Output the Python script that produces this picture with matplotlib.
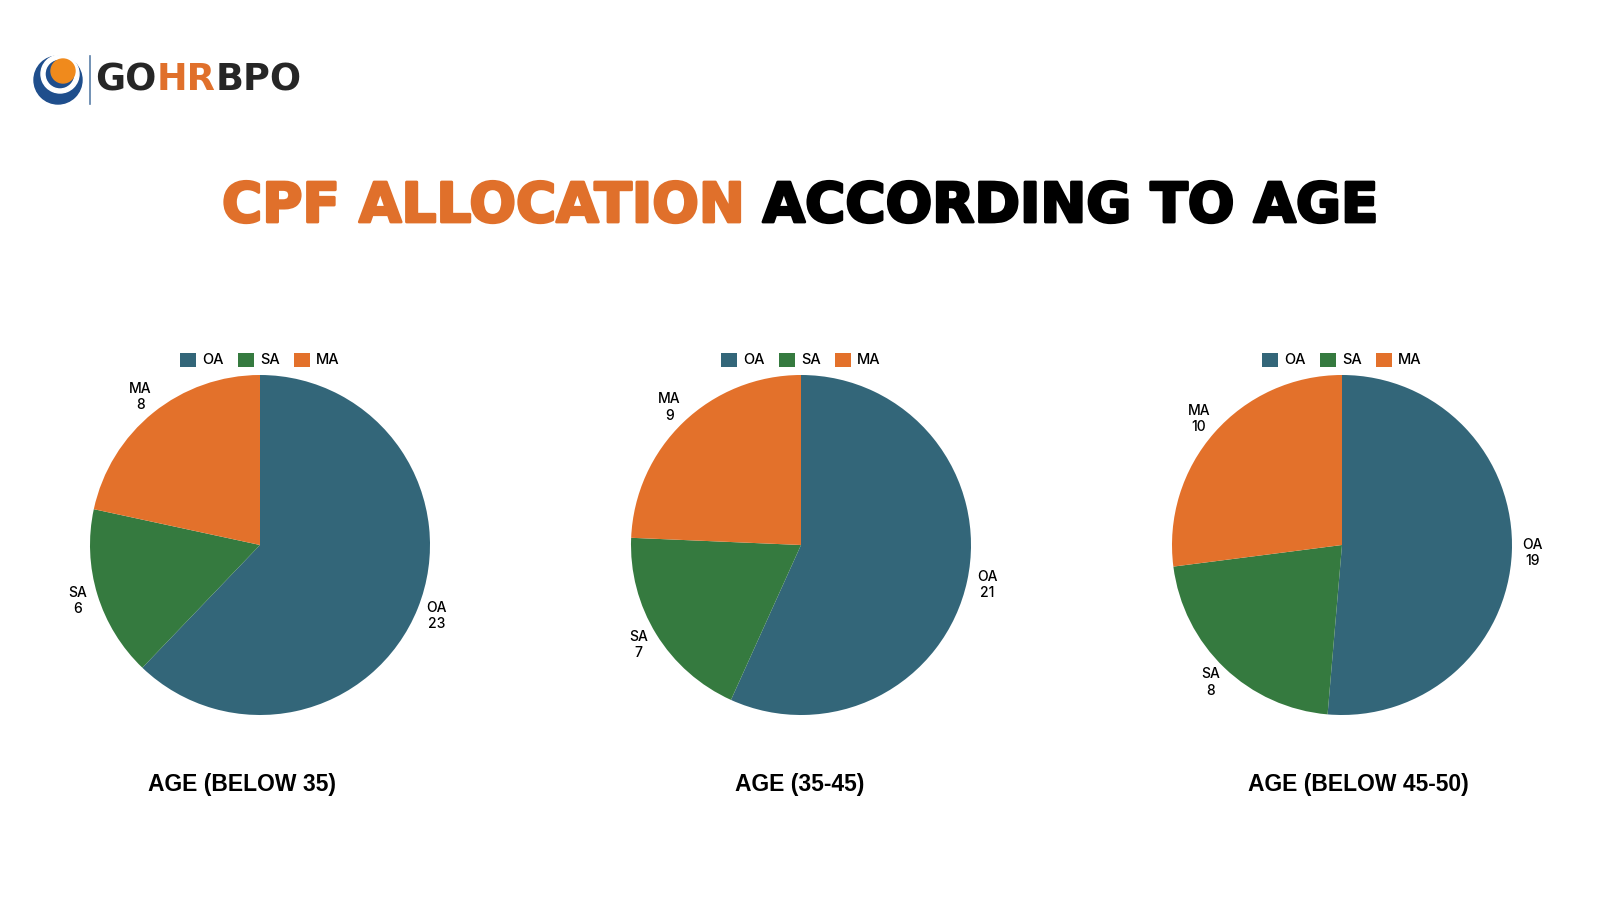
import matplotlib
matplotlib.use("Agg")
import matplotlib.pyplot as plt
import matplotlib.patheffects as pe
from matplotlib.patches import Circle, Wedge

# data
categories = ["OA", "SA", "MA"]
below35 = [23, 6, 8]
age35_45 = [21, 7, 9]
age45_50 = [19, 8, 10]
group_titles = ["AGE (BELOW 35)", "AGE (35-45)", "AGE (BELOW 45-50)"]
colors = ["#336679", "#357A3F", "#E3712B"]
orange = "#E0702B"

W, H = 1600, 900
fig = plt.figure(figsize=(16, 9), dpi=100)
fig.patch.set_facecolor("white")
renderer = fig.canvas.get_renderer()

# background axes in pixel coordinates (y down)
bg = fig.add_axes([0, 0, 1, 1])
bg.set_xlim(0, W)
bg.set_ylim(H, 0)
bg.axis("off")


def text_row(x0, x1, y, parts, family, weight, stroke=0):
    # draw coloured text pieces one after another, scaled to fill x0..x1
    size = 20
    for _ in range(2):
        ts = [bg.text(0, y, s, fontsize=size, fontweight=weight, family=family,
                      color=c, ha="left", va="center") for s, c, gap in parts]
        widths = [t.get_window_extent(renderer).width for t in ts]
        gaps = [gap * size for s, c, gap in parts]
        total = sum(widths) + sum(gaps)
        for t in ts:
            t.remove()
        size = size * (x1 - x0) / total
    x = x0
    for s, c, gap in parts:
        t = bg.text(x, y, s, fontsize=size, fontweight=weight, family=family,
                    color=c, ha="left", va="center")
        if stroke:
            t.set_path_effects([pe.withStroke(linewidth=stroke, foreground=c)])
        x += t.get_window_extent(renderer).width + gap * size


# logo
bg.add_patch(Circle((58, 80), 24, color="#1F4E8C"))
bg.add_patch(Wedge((60, 74), 19, 0, 360, width=4, color="white"))
bg.add_patch(Circle((63, 71), 12, color="#F08A1C"))
bg.plot([90, 90], [56, 104], color="#5A7FA8", lw=1.2)
text_row(95, 301, 80, [("GO", "#262626", 0), ("HR", orange, 0), ("BPO", "#262626", 0)],
         "DejaVu Sans", "bold")

# main title
text_row(222, 1378, 207, [("CPF ALLOCATION", orange, 0.45), ("ACCORDING TO AGE", "black", 0)],
         "DejaVu Sans", "bold", stroke=2.0)

centers_x = [260, 801, 1342]
center_y = 545
r = 170
series = [below35, age35_45, age45_50]
title_x = [242, 800, 1358]

for cx, vals, tx, ttl in zip(centers_x, series, title_x, group_titles):
    half = r * 1.35
    ax = fig.add_axes([(cx - half) / W, 1 - (center_y + half) / H,
                       2 * half / W, 2 * half / H])
    labels = [f"{c}\n{v}" for c, v in zip(categories, vals)]
    wedges, texts = ax.pie(vals, labels=labels, colors=colors, startangle=90,
                           counterclock=False, radius=1, labeldistance=1.12,
                           textprops=dict(fontsize=10, family="Inter", fontweight="medium"))
    for t in texts:
        t.set_ha("center")
        t.set_va("center")
        t.set_multialignment("center")
    ax.set_xlim(-1.35, 1.35)
    ax.set_ylim(-1.35, 1.35)
    ax.set_aspect("equal")
    ax.axis("off")
    ax.legend(wedges, categories, loc="center", ncol=3,
              bbox_to_anchor=(cx / W, 1 - 360 / H), bbox_transform=fig.transFigure,
              frameon=False, handlelength=1.1, handleheight=1.1,
              handletextpad=0.4, columnspacing=1.0,
              prop=dict(family="Inter", size=10.5, weight="medium"))
    bg.text(tx, 785, ttl, fontsize=16.5, fontweight="bold", ha="center", va="center",
            family="Liberation Sans")

fig.savefig("out.png", dpi=100)
